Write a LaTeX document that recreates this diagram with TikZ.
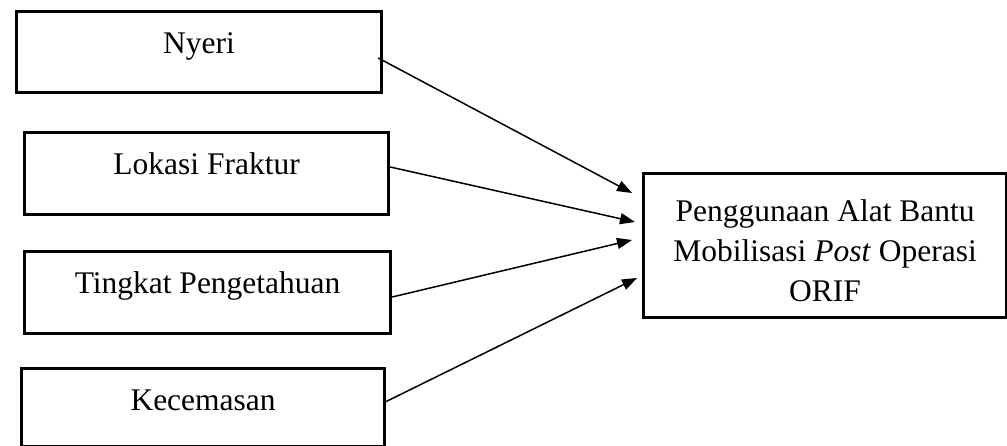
\documentclass[tikz,border=0pt]{standalone}
\usepackage{fontspec}
\setmainfont{Liberation Serif}
\usetikzlibrary{calc,arrows.meta}
\begin{document}
\begin{tikzpicture}[x=1pt,y=-1pt,
  boxnode/.style={draw=black,line width=3.2pt,rectangle,anchor=north west,inner sep=0pt,
    font=\fontsize{31.5}{40}\selectfont,text height=42pt},
  link/.style={line width=1.5pt,-{Triangle[length=15pt,width=11pt]}}]
\useasboundingbox (0,0) rectangle (1007,446);
\node[boxnode,minimum width=365pt,text depth=39pt] (n1) at (15,10) {Nyeri};
\node[boxnode,minimum width=364pt,text depth=40pt] (n2) at (23,131) {Lokasi Fraktur};
\node[boxnode,minimum width=366pt,text depth=40pt] (n3) at (23,250) {Tingkat Pengetahuan};
\node[boxnode,minimum width=363pt,text depth=36pt] (n4) at (20,367) {Kecemasan};
\node[boxnode,minimum width=363pt,text height=128pt,text depth=16pt,align=center] (out) at (642,172)
  {Penggunaan Alat Bantu\\Mobilisasi \textit{Post} Operasi\\ORIF};
\draw[link] ($(n1.north east)+(-5,48)$) -- ($(out.north west)+(-10,21)$);
\draw[link] ($(n2.north east)+(0,36)$) -- ($(out.north west)+(-7,50)$);
\draw[link] ($(n3.north east)+(0,47)$) -- ($(out.north west)+(-10,68)$);
\draw[link] ($(n4.north east)+(-1,35)$) -- ($(out.north west)+(-5,106)$);
\end{tikzpicture}
\end{document}
